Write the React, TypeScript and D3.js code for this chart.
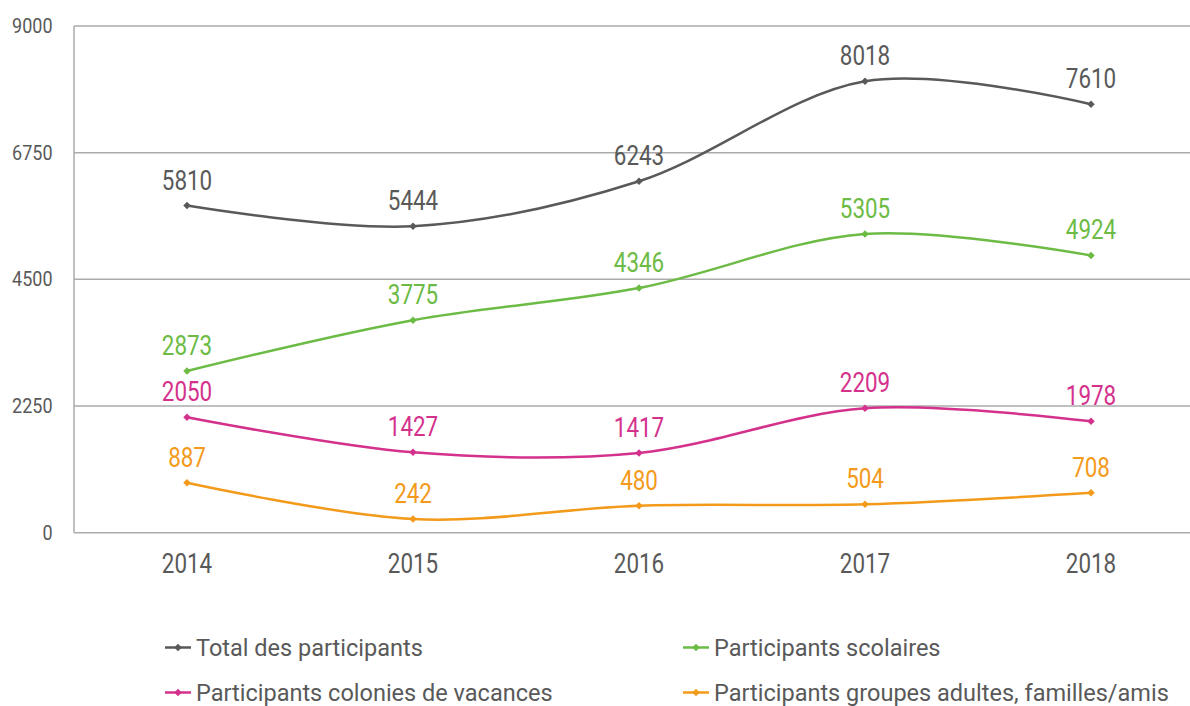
import React from "react";
import * as d3 from "d3";

const years = ["2014", "2015", "2016", "2017", "2018"];
const totalParticipants = [5810, 5444, 6243, 8018, 7610];
const scolaires = [2873, 3775, 4346, 5305, 4924];
const colonies = [2050, 1427, 1417, 2209, 1978];
const groupesAdultes = [887, 242, 480, 504, 708];
const yTicks = [0, 2250, 4500, 6750, 9000];

const seriesNames = [
  "Total des participants",
  "Participants scolaires",
  "Participants colonies de vacances",
  "Participants groupes adultes, familles/amis",
];
const seriesColors = ["#595959", "#6CBB45", "#D4318C", "#F39A1B"];
const seriesValues = [totalParticipants, scolaires, colonies, groupesAdultes];

const W = 1190;
const H = 706;
const left = 74;
const top = 26;
const bottom = 532.7;
const FONT = "Roboto, 'Noto Sans', sans-serif";
const TEXT_GRAY = "#595959";

export default function App() {
  const x = d3.scaleBand<string>().domain(years).range([left, left + 5 * 226]).padding(0);
  const y = d3.scaleLinear().domain([0, 9000]).range([bottom, top]);
  const cx = (yr: string) => (x(yr) as number) + x.bandwidth() / 2;
  const line = d3
    .line<number>()
    .x((_, i) => cx(years[i]))
    .y((v) => y(v))
    .curve(d3.curveCatmullRom.alpha(0));
  const diamond = d3.symbol().type(d3.symbolDiamond2).size(36)();

  const legendPos = [
    { lx: 165, ty: 656 },
    { lx: 683, ty: 656 },
    { lx: 165, ty: 701 },
    { lx: 683, ty: 701 },
  ];

  return (
    <svg
      width={W}
      height={H}
      style={{ position: "absolute", left: 0, top: 0 }}
      fontFamily={FONT}
    >
      <rect width={W} height={H} fill="#ffffff" />
      {yTicks.map((t) => (
        <line
          key={"g" + t}
          x1={left}
          x2={W}
          y1={y(t)}
          y2={y(t)}
          stroke="#ABABAB"
          strokeWidth={1.5}
        />
      ))}
      <line x1={left} x2={left} y1={top} y2={bottom} stroke="#ABABAB" strokeWidth={1.5} />
      {yTicks.map((t) => (
        <text
          key={"t" + t}
          transform={`translate(52.5,${y(t) + 7}) scale(0.9,1)`}
          textAnchor="end"
          fontSize={20}
          fill={TEXT_GRAY}
        >
          {t}
        </text>
      ))}
      {years.map((yr) => (
        <text
          key={"x" + yr}
          transform={`translate(${cx(yr)},573) scale(0.8,1)`}
          textAnchor="middle"
          fontSize={28}
          fill={TEXT_GRAY}
        >
          {yr}
        </text>
      ))}
      {seriesValues.map((vals, si) => (
        <g key={"s" + si}>
          <path d={line(vals) || ""} fill="none" stroke={seriesColors[si]} strokeWidth={2.5} />
          {vals.map((v, i) => (
            <path
              key={"m" + i}
              d={diamond || ""}
              transform={`translate(${cx(years[i])},${y(v)})`}
              fill={seriesColors[si]}
            />
          ))}
          {vals.map((v, i) => (
            <text
              key={"l" + i}
              transform={`translate(${cx(years[i])},${y(v) - 16}) scale(0.8,1)`}
              textAnchor="middle"
              fontSize={28}
              fill={seriesColors[si]}
            >
              {v}
            </text>
          ))}
        </g>
      ))}
      {seriesNames.map((name, si) => {
        const p = legendPos[si];
        return (
          <g key={"lg" + si}>
            <line
              x1={p.lx}
              x2={p.lx + 26}
              y1={p.ty - 8.5}
              y2={p.ty - 8.5}
              stroke={seriesColors[si]}
              strokeWidth={2.5}
            />
            <path
              d={diamond || ""}
              transform={`translate(${p.lx + 13},${p.ty - 8.5})`}
              fill={seriesColors[si]}
            />
            <text
              transform={`translate(${p.lx + 31},${p.ty}) scale(0.98,1)`}
              fontSize={24}
              fill={TEXT_GRAY}
            >
              {name}
            </text>
          </g>
        );
      })}
    </svg>
  );
}
